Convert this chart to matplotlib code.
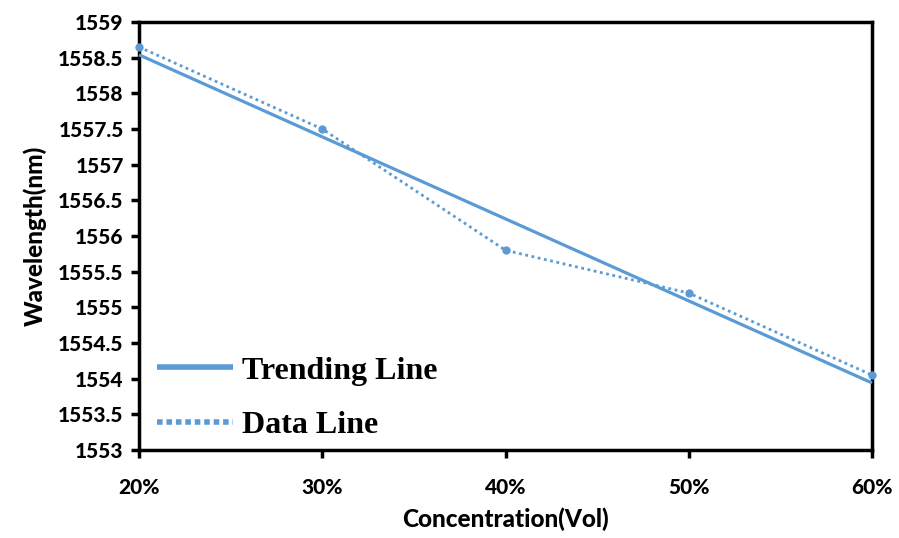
import numpy as np
import matplotlib
matplotlib.use("Agg")
import matplotlib.pyplot as plt

concentration = [0.20, 0.30, 0.40, 0.50, 0.60]
wavelength = [1558.65, 1557.50, 1555.80, 1555.20, 1554.05]
x_tick_labels = ["20%", "30%", "40%", "50%", "60%"]
y_ticks = [1553, 1553.5, 1554, 1554.5, 1555, 1555.5, 1556, 1556.5, 1557, 1557.5, 1558, 1558.5, 1559]
y_tick_labels = ["1553", "1553.5", "1554", "1554.5", "1555", "1555.5", "1556", "1556.5",
                 "1557", "1557.5", "1558", "1558.5", "1559"]

color = "#5B9BD5"
tick_font = ["Lato", "DejaVu Sans"]

fig = plt.figure(figsize=(8.99, 5.38), dpi=100)
ax = fig.add_axes([0.1546, 0.1636, 0.8154, 0.7955])

x = np.array(concentration)
y = np.array(wavelength)
coef = np.polyfit(x, y, 1)
xt = np.array([x.min(), x.max()])
ax.plot(xt, np.polyval(coef, xt), color=color, lw=2.3, label="Trending Line",
        solid_capstyle="butt", zorder=3, clip_on=False)
ax.plot(x, y, color=color, lw=2.0, ls=(0, (1, 1.3)), marker="o", markersize=5,
        label="Data Line", zorder=3, clip_on=False)

ax.set_xlim(0.2, 0.6)
ax.set_ylim(1553, 1559)
ax.set_xticks(concentration)
ax.set_xticklabels(x_tick_labels)
ax.set_yticks(y_ticks)
ax.set_yticklabels(y_tick_labels)
for lab in ax.get_xticklabels() + ax.get_yticklabels():
    lab.set_fontfamily(tick_font)
    lab.set_fontweight("black")
    lab.set_fontsize(15)
ax.tick_params(axis="both", direction="out", length=6, width=2.5, color="black")
ax.tick_params(axis="x", pad=14)
ax.tick_params(axis="y", pad=5)
for sp in ax.spines.values():
    sp.set_linewidth(2.5)
    sp.set_color("black")

ax.set_xlabel("Concentration(Vol)", fontsize=17.5, fontweight="black", family=tick_font, labelpad=8)
ax.set_ylabel("Wavelength(nm)", fontsize=17.5, fontweight="black", family=tick_font, labelpad=8)

leg = ax.legend(loc="lower left", bbox_to_anchor=(-0.014, -0.045), frameon=False,
                prop={"family": ["Liberation Serif", "DejaVu Serif"], "weight": "bold", "size": 23},
                handlelength=2.35, handletextpad=0.3, labelspacing=0.8)
for h in leg.get_lines():
    h.set_linewidth(4)
    h.set_marker("")
leg.get_lines()[1].set_linestyle((0, (1, 0.7)))

fig.savefig("out.png", dpi=100)
